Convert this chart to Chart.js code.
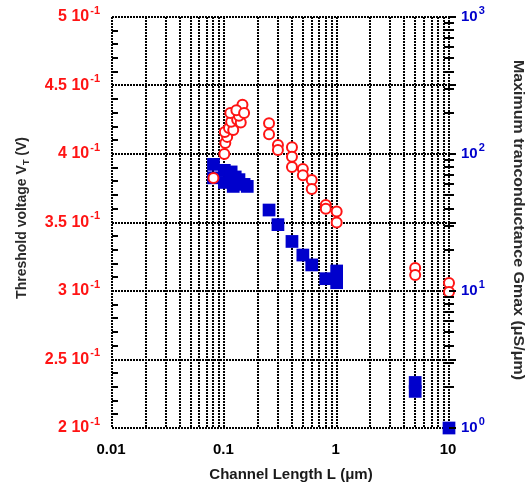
<!DOCTYPE html>
<html>
<head>
<meta charset="utf-8">
<script src="https://cdn.jsdelivr.net/npm/chart.js@4.4.1/dist/chart.umd.min.js"></script>
<style>
  html, body { margin: 0; padding: 0; background: #fff; }
  #chart { display: block; }
</style>
</head>
<body>
<canvas id="chart" width="526" height="488"></canvas>
<script>
// threshold voltage (left axis, red open circles)
const vtLength = [0.08, 0.10, 0.102, 0.106, 0.101, 0.11, 0.12, 0.115, 0.13, 0.14, 0.113, 0.135, 0.145, 0.128, 0.15,
  0.25, 0.25, 0.30, 0.30, 0.40, 0.40, 0.40, 0.50, 0.50, 0.60, 0.60, 0.80, 0.80, 1.0, 1.0, 5.0, 5.0, 10, 10];
const vtValues = [0.3825, 0.400, 0.408, 0.4125, 0.416, 0.419, 0.4175, 0.4235, 0.425, 0.423, 0.430, 0.428, 0.436, 0.432, 0.430,
  0.4225, 0.4145, 0.4065, 0.403, 0.405, 0.398, 0.3905, 0.389, 0.3845, 0.381, 0.3745, 0.3628, 0.360, 0.358, 0.350, 0.3168, 0.3117, 0.3058, 0.2993];

// maximum transconductance (right axis, blue squares)
const gmLength = [0.08, 0.08, 0.10, 0.10, 0.115, 0.125, 0.135, 0.15, 0.16, 0.12,
  0.25, 0.30, 0.40, 0.50, 0.60, 0.80, 1.0, 1.0, 5.0, 5.0, 10];
const gmValues = [84, 67, 76, 62, 74, 68, 65, 60, 58, 58,
  39, 30.5, 23, 18.3, 15.5, 12.3, 14, 11.5, 2.15, 1.85, 1.0];

const xTickValues = [0.01, 0.1, 1, 10];
const xTickLabels = ["0.01", "0.1", "1", "10"];
const vtTickValues = [0.2, 0.25, 0.3, 0.35, 0.4, 0.45, 0.5];
const vtTickLabels = ["2", "2.5", "3", "3.5", "4", "4.5", "5"];
const gmTickValues = [1, 10, 100, 1000];
const gmTickExponents = ["0", "1", "2", "3"];

const FONT = '"Liberation Sans", Arial, sans-serif';
const RED = "#ff1414";
const BLUE = "#0000cc";

// every decade minor for the log grid
const xGrid = [];
for (const d of [0.01, 0.1, 1]) {
  for (let m = 1; m < 10; m++) xGrid.push(+(d * m).toPrecision(3));
}
xGrid.push(10);

const vtMinor = [];
for (let i = 21; i < 50; i++) {
  if (i % 5 !== 0) vtMinor.push(i / 100);
}

const gmMinor = [];
for (const d of [1, 10, 100]) {
  for (let m = 2; m < 10; m++) gmMinor.push(d * m);
}

function drawPower(ctx, base, exp, x, y, align, size) {
  const expSize = Math.round(size * 0.7);
  ctx.font = `bold ${size}px ${FONT}`;
  const bw = ctx.measureText(base).width;
  ctx.font = `bold ${expSize}px ${FONT}`;
  const ew = ctx.measureText(exp).width;
  const start = align === "right" ? x - bw - ew - 1 : x;
  ctx.textBaseline = "middle";
  ctx.textAlign = "left";
  ctx.font = `bold ${size}px ${FONT}`;
  ctx.fillText(base, start, y);
  ctx.font = `bold ${expSize}px ${FONT}`;
  ctx.fillText(exp, start + bw + 1, y - 6.5);
}

const decorations = {
  id: "decorations",
  afterDraw(chart) {
    const { ctx, chartArea, scales } = chart;
    const { x, y, y2 } = scales;
    ctx.save();

    // inward minor ticks, left
    ctx.strokeStyle = "#000";
    ctx.lineWidth = 2;
    ctx.setLineDash([]);
    ctx.beginPath();
    for (const v of vtMinor) {
      const py = Math.round(y.getPixelForValue(v));
      ctx.moveTo(chartArea.left, py);
      ctx.lineTo(chartArea.left + 6, py);
    }
    // right axis minor ticks, both sides
    for (const v of gmMinor) {
      const py = Math.round(y2.getPixelForValue(v));
      ctx.moveTo(chartArea.right - 5, py);
      ctx.lineTo(chartArea.right + 5, py);
    }
    for (const v of vtTickValues) {
      const py = Math.round(y.getPixelForValue(v));
      ctx.moveTo(chartArea.right, py);
      ctx.lineTo(chartArea.right + 7, py);
    }
    ctx.stroke();

    // left tick labels
    ctx.fillStyle = RED;
    vtTickValues.forEach((v, i) => {
      drawPower(ctx, vtTickLabels[i] + " 10", "-1", 100, y.getPixelForValue(v), "right", 16);
    });

    // right tick labels
    ctx.fillStyle = BLUE;
    gmTickValues.forEach((v, i) => {
      drawPower(ctx, "10", gmTickExponents[i], 461, y2.getPixelForValue(v), "left", 15);
    });

    // bottom tick labels
    ctx.fillStyle = "#000";
    ctx.font = `bold 15px ${FONT}`;
    ctx.textAlign = "center";
    ctx.textBaseline = "middle";
    xTickValues.forEach((v, i) => {
      ctx.fillText(xTickLabels[i], x.getPixelForValue(v) - 1, 450);
    });

    // axis titles
    ctx.fillStyle = "#1a1a1a";
    ctx.font = `bold 15px ${FONT}`;
    ctx.fillText("Channel Length L (\u03bcm)", 291, 475);

    ctx.fillStyle = "#2a2a2a";
    ctx.save();
    ctx.translate(22, 218);
    ctx.rotate(-Math.PI / 2);
    ctx.font = `bold 14px ${FONT}`;
    const p1 = "Threshold voltage V";
    const p2 = "T";
    const p3 = " (V)";
    const w1 = ctx.measureText(p1).width;
    const w3 = ctx.measureText(p3).width;
    ctx.font = `bold 9px ${FONT}`;
    const w2 = ctx.measureText(p2).width;
    const sx = -(w1 + w2 + w3) / 2;
    ctx.textAlign = "left";
    ctx.font = `bold 14px ${FONT}`;
    ctx.fillText(p1, sx, 0);
    ctx.font = `bold 9px ${FONT}`;
    ctx.fillText(p2, sx + w1, 5);
    ctx.font = `bold 14px ${FONT}`;
    ctx.fillText(p3, sx + w1 + w2, 0);
    ctx.restore();

    ctx.save();
    ctx.translate(518, 220);
    ctx.rotate(Math.PI / 2);
    ctx.font = `bold 14px ${FONT}`;
    const rt = "Maximum tranconductance Gmax (\u03bcS/\u03bcm)";
    const rw = ctx.measureText(rt).width;
    ctx.scale(320 / rw, 1);
    ctx.textAlign = "center";
    ctx.fillText(rt, 0, 0);
    ctx.restore();

    ctx.restore();
  },
};

const gridStyle = { color: "#000", lineWidth: 2, drawTicks: false };
const borderStyle = { display: false, dash: [2, 1] };

new Chart(document.getElementById("chart"), {
  type: "scatter",
  data: {
    datasets: [
      {
        label: "Threshold voltage",
        data: vtLength.map((l, i) => ({ x: l, y: vtValues[i] })),
        yAxisID: "y",
        pointStyle: "circle",
        pointRadius: 5,
        pointBorderWidth: 2,
        borderColor: RED,
        backgroundColor: "#fff",
        clip: false,
      },
      {
        label: "Gmax",
        data: gmLength.map((l, i) => ({ x: l, y: gmValues[i] })),
        yAxisID: "y2",
        pointStyle: "rect",
        pointRadius: 9,
        pointBorderWidth: 0,
        borderColor: BLUE,
        backgroundColor: BLUE,
        clip: false,
      },
    ],
  },
  options: {
    responsive: false,
    animation: false,
    layout: { padding: { top: 17 } },
    plugins: {
      legend: { display: false },
      tooltip: { enabled: false },
    },
    scales: {
      x: {
        type: "logarithmic",
        position: "bottom",
        min: 0.01,
        max: 10,
        ticks: { display: false },
        grid: gridStyle,
        border: borderStyle,
        afterBuildTicks(scale) {
          scale.ticks = xGrid.map((v) => ({ value: v }));
        },
        afterFit(scale) {
          scale.height = 60;
        },
      },
      y: {
        type: "linear",
        position: "left",
        min: 0.2,
        max: 0.5,
        ticks: { display: false },
        grid: gridStyle,
        border: borderStyle,
        afterBuildTicks(scale) {
          scale.ticks = vtTickValues.map((v) => ({ value: v }));
        },
        afterFit(scale) {
          scale.width = 112;
        },
      },
      y2: {
        type: "logarithmic",
        position: "right",
        min: 1,
        max: 1000,
        ticks: { display: false },
        grid: { display: false },
        border: { display: false },
        afterFit(scale) {
          scale.width = 77;
        },
      },
    },
  },
  plugins: [decorations],
});
</script>
</body>
</html>
